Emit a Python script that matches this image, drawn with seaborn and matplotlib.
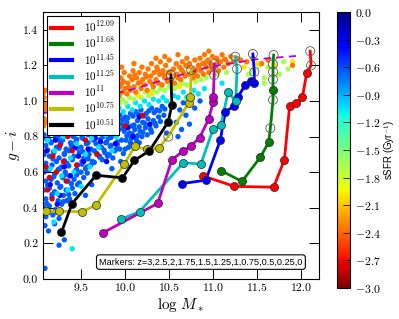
import matplotlib
matplotlib.use("Agg")
import matplotlib.pyplot as plt
import numpy as np
import pandas as pd
import seaborn as sns
from matplotlib.lines import Line2D
from matplotlib.colors import Normalize
from matplotlib.cm import ScalarMappable
from matplotlib.ticker import FuncFormatter

plt.rcParams['font.family'] = 'serif'
plt.rcParams['font.serif'] = ['cmr10']
plt.rcParams['mathtext.fontset'] = 'cm'
plt.rcParams['axes.unicode_minus'] = False

# ---- halo-mass tracks (log M*, g-i), z = 3 ... 0 ; open = marker drawn hollow
red_x = [10.88, 11.24, 11.685, 11.807, 11.867, 11.943, 12.011, 12.06, 12.11, 12.10]
red_y = [0.58, 0.52, 0.516, 0.669, 0.974, 0.987, 1.02, 1.155, 1.20, 1.28]
red_open = [0, 0, 0, 0, 0, 0, 0, 0, 1, 1]

green_x = [11.087, 11.326, 11.534, 11.629, 11.648, 11.678, 11.678, 11.678, 11.678, 11.678, 11.685]
green_y = [0.609, 0.548, 0.684, 0.768, 0.847, 1.006, 1.062, 1.121, 1.164, 1.207, 1.258]
green_open = [0, 0, 0, 0, 1, 1, 0, 1, 1, 1, 1]

blue_x = [10.645, 10.915, 11.08, 11.136, 11.239, 11.276, 11.363, 11.428, 11.466, 11.466, 11.45]
blue_y = [0.536, 0.555, 0.78, 0.94, 0.972, 1.02, 1.09, 1.114, 1.099, 1.164, 1.264]
blue_open = [0, 0, 0, 0, 0, 0, 0, 0, 0, 1, 1]

cyan_x = [9.955, 10.163, 10.66, 10.86, 10.997, 11.085, 11.17, 11.255, 11.27, 11.25]
cyan_y = [0.336, 0.378, 0.653, 0.646, 0.841, 0.865, 1.052, 0.998, 1.18, 1.249]
cyan_open = [0, 0, 0, 0, 0, 0, 0, 0, 1, 1]

mag_x = [9.75, 10.37, 10.53, 10.655, 10.747, 10.845, 10.947, 11.0, 11.0, 11.01, 11.01]
mag_y = [0.26, 0.425, 0.67, 0.717, 0.747, 0.794, 0.897, 0.996, 1.024, 1.146, 1.208]
mag_open = [0, 0, 0, 0, 0, 0, 0, 0, 0, 1, 1]

yel_x = [9.10, 9.246, 9.51, 9.67, 9.99, 10.11, 10.25, 10.38, 10.49, 10.72, 10.74, 10.75]
yel_y = [0.381, 0.381, 0.378, 0.415, 0.645, 0.745, 0.728, 0.736, 0.80, 0.99, 1.02, 1.174]
yel_open = [0, 0, 0, 0, 0, 0, 0, 0, 1, 0, 0, 1]

blk_x = [9.277, 9.398, 9.67, 9.97, 10.106, 10.276, 10.49, 10.53, 10.52]
blk_y = [0.262, 0.424, 0.583, 0.568, 0.667, 0.72, 0.884, 0.978, 1.146]
blk_open = [0, 0, 0, 0, 0, 0, 0, 0, 1]

# dashed reference line
dash_x = [9.07, 9.5, 10.09, 10.55, 10.94, 11.5, 11.97]
dash_y = [0.93, 0.99, 1.067, 1.135, 1.19, 1.235, 1.254]

# ---- galaxy cloud, grouped by sSFR (log Gyr^-1)
cloud_blue_x = [9.08, 9.13, 9.19, 9.24, 9.29, 9.35, 9.41, 9.47, 9.52, 9.58, 9.64, 9.69, 9.75, 9.81, 9.87, 9.93,
                9.10, 9.16, 9.22, 9.27, 9.33, 9.39, 9.44, 9.50, 9.56, 9.61, 9.67, 9.73, 9.79, 9.84, 9.90, 9.96,
                9.08, 9.14, 9.19, 9.25, 9.31, 9.36, 9.42, 9.48, 9.53, 9.59, 9.65, 9.71, 9.77, 9.82, 9.88, 9.94,
                9.10, 9.17, 9.22, 9.28, 9.34, 9.40, 9.46, 9.51, 9.57, 9.63, 9.74, 9.80, 9.86,
                9.08, 9.13, 9.20, 9.26, 9.32, 9.37, 9.44, 9.50, 9.55, 9.61,
                9.10, 9.16, 9.23, 9.29, 9.35, 9.42, 9.48, 9.53,
                9.08, 9.14, 9.20, 9.27, 9.33, 9.40, 9.46,
                9.10, 9.17, 9.24, 9.30, 9.37, 9.43,
                9.08, 9.14, 9.21, 9.28, 9.34,
                9.10, 9.18, 9.25, 9.09, 9.20, 9.13,
                9.31, 9.25, 9.09, 9.55, 9.62, 9.70, 9.85, 9.95,
                9.94, 10.00, 10.06, 10.12, 10.18, 10.24, 10.30, 10.36, 10.42,
                9.96, 10.02, 10.08, 10.14, 10.20, 10.26, 10.32, 10.38, 10.44,
                9.99, 10.05, 10.11, 10.17, 10.23, 10.29, 10.35,
                10.01, 10.07, 10.13, 10.19, 10.25, 10.00, 10.04, 10.10,
                10.58, 10.62, 10.64, 10.69, 10.73, 10.60, 10.79, 10.66, 10.47, 10.85,
                9.11, 9.16, 9.21, 9.26, 9.32, 9.38, 9.45, 9.51, 9.58, 9.66, 9.72, 9.78, 9.84, 9.91,
                9.12, 9.19, 9.25, 9.31, 9.38, 9.45, 9.52, 9.59, 9.68, 9.76, 9.83, 9.91,
                9.11, 9.18, 9.24, 9.31, 9.36, 9.45, 9.51, 9.58, 9.65, 9.71,
                9.12, 9.19, 9.26, 9.32, 9.39, 9.45, 9.57,
                9.11, 9.17, 9.23, 9.30, 9.36,
                9.97, 10.03, 10.09, 10.15, 10.21, 10.27, 10.33, 10.39, 10.45,
                9.98, 10.04, 10.10, 10.16, 10.22, 10.28, 10.34, 10.40,
                10.02, 10.08, 10.14, 10.20, 10.30, 10.06, 10.16, 9.98]
cloud_blue_y = [0.81, 0.79, 0.82, 0.80, 0.78, 0.81, 0.80, 0.82, 0.79, 0.81, 0.78, 0.82, 0.80, 0.79, 0.81, 0.84,
                0.75, 0.77, 0.74, 0.76, 0.73, 0.75, 0.77, 0.74, 0.76, 0.73, 0.76, 0.74, 0.77, 0.75, 0.73, 0.78,
                0.70, 0.69, 0.71, 0.68, 0.70, 0.72, 0.69, 0.71, 0.68, 0.70, 0.72, 0.69, 0.71, 0.70, 0.72, 0.73,
                0.65, 0.64, 0.66, 0.63, 0.65, 0.67, 0.64, 0.66, 0.63, 0.66, 0.67, 0.69, 0.68,
                0.60, 0.61, 0.59, 0.62, 0.60, 0.58, 0.61, 0.60, 0.62, 0.64,
                0.55, 0.56, 0.54, 0.57, 0.55, 0.56, 0.54, 0.57,
                0.50, 0.51, 0.49, 0.52, 0.50, 0.51, 0.53,
                0.45, 0.46, 0.44, 0.47, 0.45, 0.48,
                0.40, 0.41, 0.39, 0.42, 0.44,
                0.35, 0.36, 0.34, 0.30, 0.31, 0.27,
                0.22, 0.19, 0.06, 0.47, 0.53, 0.58, 0.62, 0.66,
                0.92, 0.91, 0.93, 0.94, 0.95, 0.93, 0.96, 0.95, 0.97,
                0.87, 0.88, 0.86, 0.89, 0.88, 0.90, 0.89, 0.91, 0.92,
                0.83, 0.82, 0.84, 0.83, 0.85, 0.84, 0.86,
                0.78, 0.79, 0.78, 0.80, 0.81, 0.73, 0.74, 0.75,
                0.88, 0.95, 0.84, 0.92, 0.87, 0.80, 0.96, 0.99, 0.82, 1.00,
                0.785, 0.765, 0.795, 0.775, 0.805, 0.765, 0.785, 0.795, 0.765, 0.805, 0.785, 0.765, 0.795, 0.77,
                0.725, 0.715, 0.735, 0.705, 0.725, 0.735, 0.715, 0.725, 0.705, 0.725, 0.745, 0.755,
                0.625, 0.675, 0.615, 0.665, 0.635, 0.615, 0.645, 0.675, 0.655, 0.685,
                0.525, 0.575, 0.515, 0.585, 0.535, 0.585, 0.595,
                0.425, 0.475, 0.375, 0.435, 0.475,
                0.895, 0.905, 0.915, 0.925, 0.915, 0.945, 0.935, 0.945, 0.955,
                0.845, 0.855, 0.865, 0.855, 0.875, 0.865, 0.875, 0.885,
                0.805, 0.815, 0.805, 0.825, 0.825, 0.765, 0.765, 0.705]

cloud_dark_x = [9.11, 9.21, 9.31, 9.43, 9.53, 9.66, 9.79, 9.89, 9.15, 9.26, 9.38, 9.47, 9.58, 9.72,
                10.03, 10.16, 10.28, 10.09, 9.12, 9.23]
cloud_dark_y = [0.72, 0.78, 0.63, 0.74, 0.66, 0.79, 0.66, 0.76, 0.53, 0.47, 0.58, 0.69, 0.73, 0.77,
                0.85, 0.91, 0.87, 0.80, 0.38, 0.42]

cloud_cyan_x = [9.93, 9.98, 10.03, 10.08, 10.12, 10.17, 10.22, 10.27, 10.32, 10.38, 10.43, 10.47, 10.55, 10.60,
                10.66, 10.70, 10.78, 10.83, 10.90, 11.10,
                9.12, 9.20, 9.30, 9.38, 9.45, 9.55, 9.62, 9.70, 9.78, 9.85, 9.15, 9.28, 9.42, 9.50, 9.60, 9.90,
                9.23, 9.35, 9.40, 9.19]
cloud_cyan_y = [0.96, 0.94, 0.97, 0.95, 0.99, 0.97, 1.00, 0.98, 1.01, 1.00, 1.02, 1.00, 1.03, 1.02,
                1.05, 1.02, 1.06, 1.04, 1.07, 1.10,
                0.78, 0.72, 0.80, 0.68, 0.76, 0.70, 0.79, 0.74, 0.81, 0.72, 0.62, 0.58, 0.60, 0.52, 0.63, 0.80,
                0.48, 0.50, 0.17, 0.32]

cloud_red_x = [9.10, 9.14, 9.18, 9.22, 9.26, 9.30, 9.12, 9.33, 9.40, 9.45, 9.55, 9.35, 9.17, 9.68, 10.00, 10.20]
cloud_red_y = [0.63, 0.57, 0.69, 0.60, 0.75, 0.66, 0.50, 0.55, 0.72, 0.64, 0.78, 0.80, 0.45, 0.70, 0.86, 0.92]

cloud_green_x = [9.94, 9.97, 10.01, 10.05, 10.10, 10.14, 10.18, 10.23, 10.27, 10.31, 10.36, 10.40, 10.45, 10.50,
                 10.56, 10.60, 10.65, 10.70, 10.80, 10.86, 10.92, 11.05, 11.15,
                 11.45, 11.52, 11.58, 11.62, 11.75, 11.80, 11.85, 11.58, 11.40]
cloud_green_y = [0.99, 1.01, 0.99, 1.02, 1.01, 1.04, 1.02, 1.05, 1.03, 1.06, 1.05, 1.07, 1.06, 1.08,
                 1.07, 1.09, 1.10, 1.09, 1.11, 1.12, 1.13, 1.15, 1.16,
                 1.17, 1.20, 1.13, 1.19, 1.15, 1.22, 1.18, 1.10, 1.15]

cloud_yel_x = [11.50, 11.70, 11.90, 10.30, 10.62, 11.35, 10.15]
cloud_yel_y = [1.21, 1.20, 1.22, 1.04, 1.08, 1.19, 1.03]

cloud_orange_x = [9.93, 9.94, 9.95, 9.97, 9.98, 9.99, 10.00, 10.02, 10.03, 10.05, 10.06, 10.08, 10.09, 10.10,
                  10.12, 10.13, 10.15, 10.16, 10.18, 10.19, 10.20, 10.22, 10.23, 10.25, 10.26, 10.28, 10.29, 10.30,
                  10.32, 10.33, 10.35, 10.36, 10.38, 10.39, 10.40, 10.42, 10.43, 10.45, 10.46, 10.48, 10.49, 10.50,
                  10.53, 10.55, 10.56, 10.58, 10.59, 10.60, 10.62, 10.63, 10.65, 10.66, 10.68, 10.69, 10.70,
                  10.72, 10.73, 10.76, 10.77, 10.79, 10.80, 10.82, 10.83, 10.85, 10.86, 10.88, 10.89, 10.90,
                  10.92, 10.94, 10.95, 10.97, 10.99, 11.00, 11.03, 11.04, 11.06, 11.08, 11.10,
                  11.12, 11.14, 11.17, 11.20, 11.23, 11.27, 11.31,
                  10.10, 10.35, 10.60, 10.95, 11.38, 11.45, 11.55, 11.62, 11.90, 9.96, 10.45,
                  9.075, 9.08, 9.075, 9.09, 9.08, 9.075, 9.09, 9.10, 9.09, 9.08,
                  9.96, 10.04, 10.11, 10.17, 10.24, 10.31, 10.37, 10.44, 10.51, 10.57, 10.64, 10.71, 10.78,
                  10.84, 10.91, 10.98, 11.05, 11.13]
cloud_orange_y = [1.03, 1.08, 1.13, 1.05, 1.11, 1.16, 1.07, 1.04, 1.10, 1.14, 1.06, 1.12, 1.17, 1.08,
                  1.05, 1.13, 1.10, 1.16, 1.07, 1.19, 1.12, 1.09, 1.15, 1.06, 1.18, 1.11, 1.14, 1.21,
                  1.08, 1.16, 1.12, 1.19, 1.10, 1.15, 1.22, 1.09, 1.17, 1.13, 1.20, 1.11, 1.16, 1.23,
                  1.12, 1.18, 1.10, 1.21, 1.15, 1.13, 1.19, 1.12, 1.22, 1.16, 1.14, 1.20, 1.24,
                  1.15, 1.21, 1.18, 1.13, 1.23, 1.17, 1.14, 1.20, 1.24, 1.17, 1.21, 1.15, 1.26,
                  1.19, 1.23, 1.16, 1.21, 1.25, 1.18, 1.20, 1.24, 1.17, 1.22, 1.26,
                  1.19, 1.23, 1.21, 1.25, 1.22, 1.24, 1.23,
                  1.21, 1.24, 1.26, 1.28, 1.22, 1.24, 1.21, 1.23, 1.20, 1.19, 1.25,
                  0.86, 0.90, 0.94, 0.98, 1.02, 1.05, 0.88, 0.96, 1.06, 0.99,
                  1.095, 1.075, 1.145, 1.105, 1.135, 1.095, 1.175, 1.145, 1.165, 1.145, 1.175, 1.195, 1.155,
                  1.185, 1.215, 1.185, 1.215, 1.235]

group_ssfr = {"blue": -0.65, "dark": -0.35, "cyan": -1.05, "red": -2.75,
              "green": -1.65, "yel": -2.0, "orange": -2.35}

cbar_ticks = [0.0, -0.3, -0.6, -0.9, -1.2, -1.5, -1.8, -2.1, -2.4, -2.7, -3.0]
x_ticks = [9.5, 10.0, 10.5, 11.0, 11.5, 12.0]
y_ticks = [0.0, 0.2, 0.4, 0.6, 0.8, 1.0, 1.2, 1.4]

tracks = [
    ("$10^{12.09}$", "r", red_x, red_y, red_open),
    ("$10^{11.68}$", "g", green_x, green_y, green_open),
    ("$10^{11.45}$", "b", blue_x, blue_y, blue_open),
    ("$10^{11.25}$", "c", cyan_x, cyan_y, cyan_open),
    ("$10^{11}$", "m", mag_x, mag_y, mag_open),
    ("$10^{10.75}$", "y", yel_x, yel_y, yel_open),
    ("$10^{10.51}$", "k", blk_x, blk_y, blk_open),
]

# build one table for the cloud, drawing order = list order
parts = []
for name, xs, ys in [("blue", cloud_blue_x, cloud_blue_y), ("dark", cloud_dark_x, cloud_dark_y),
                     ("cyan", cloud_cyan_x, cloud_cyan_y), ("red", cloud_red_x, cloud_red_y),
                     ("green", cloud_green_x, cloud_green_y), ("yel", cloud_yel_x, cloud_yel_y),
                     ("orange", cloud_orange_x, cloud_orange_y)]:
    parts.append(pd.DataFrame({"x": xs, "y": ys, "ssfr": group_ssfr[name]}))
cloud = pd.concat(parts, ignore_index=True)

fig = plt.figure(figsize=(3.99, 3.19), dpi=100)
ax = fig.add_axes([0.1078, 0.1254, 0.6917, 0.837])
cax = fig.add_axes([0.8438, 0.0972, 0.0333, 0.8652])

norm = Normalize(vmin=-3, vmax=0)
sns.scatterplot(data=cloud, x="x", y="y", hue="ssfr", palette="jet_r", hue_norm=norm,
                s=15, linewidth=0, legend=False, ax=ax, zorder=1)

ax.plot(dash_x, dash_y, color="m", ls="--", lw=1.3, dashes=(4, 3), zorder=2)

handles = []
for lab, c, xs, ys, op in tracks:
    sns.lineplot(x=xs, y=ys, sort=False, estimator=None, color=c, lw=2, ax=ax, zorder=3, legend=False)
    xs = np.array(xs)
    ys = np.array(ys)
    op = np.array(op, dtype=bool)
    sns.scatterplot(x=xs[~op], y=ys[~op], color=c, s=34, edgecolor="0.15", linewidth=0.5,
                    ax=ax, zorder=4, legend=False)
    ax.scatter(xs[op], ys[op], facecolors="none", edgecolors="0.35", s=42, linewidths=0.6, zorder=4)
    handles.append(Line2D([], [], color=c, lw=3, label=lab))

leg = ax.legend(handles=handles, loc="upper left", fontsize=8, handlelength=1.9,
                labelspacing=0.12, borderaxespad=0.35, borderpad=0.35, fancybox=False,
                framealpha=1, edgecolor="k", handletextpad=1.1)
leg.get_frame().set_linewidth(0.8)
leg.set_zorder(10)

ax.text(10.86, 0.095, "Markers: z=3,2.5,2,1.75,1.5,1.25,1,0.75,0.5,0.25,0",
        family="Liberation Sans", fontsize=6.6, ha="center", va="center", zorder=6,
        bbox=dict(boxstyle="round,pad=0.3", fc="white", ec="k", lw=0.8))

ax.set_xlim(9.068, 12.2)
ax.set_ylim(0, 1.5)
ax.set_xticks(x_ticks)
ax.set_yticks(y_ticks)
ax.tick_params(direction="in", top=True, right=True, length=7, width=0.7, labelsize=8.5)
ax.set_xlabel(r"$\log\,M_*$", fontsize=11, labelpad=2)
ax.set_ylabel(r"$g-i$", fontsize=11, labelpad=1)
for sp in ax.spines.values():
    sp.set_linewidth(0.8)

cb = fig.colorbar(ScalarMappable(norm=norm, cmap="jet_r"), cax=cax, ticks=cbar_ticks)
cb.ax.yaxis.set_major_formatter(FuncFormatter(lambda v, p: "$%.1f$" % v))
cb.ax.tick_params(direction="in", length=5, width=0.6, color="k", labelsize=8.5)
cb.outline.set_linewidth(0.8)
cb.set_label("sSFR (Gyr$^{-1}$)", family="Liberation Sans", fontsize=7, labelpad=1)

fig.savefig("out.png", dpi=100)
